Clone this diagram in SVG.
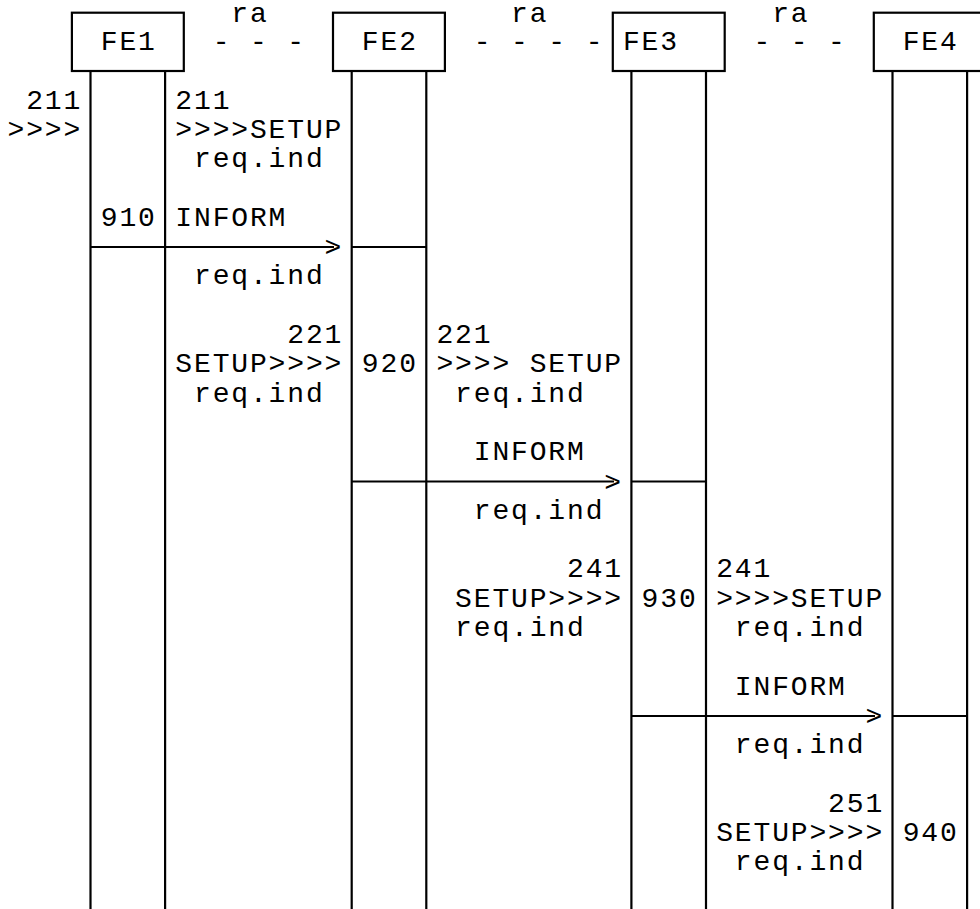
<svg xmlns="http://www.w3.org/2000/svg" width="980" height="909" viewBox="0 0 980 909">
<style>
text{font-family:"Liberation Mono","Courier New",monospace;font-size:28px;letter-spacing:1.85px;fill:#000}
.box{fill:#fff;stroke:#000;stroke-width:2.2}
.life{stroke:#000;stroke-width:2.2;fill:none}
.msg{stroke:#000;stroke-width:2.2;fill:none}
</style>
<rect width="980" height="909" fill="#fff"/>
<g id="FE1">
<line class="life" x1="90.5" y1="71" x2="90.5" y2="909"/>
<line class="life" x1="165.1" y1="71" x2="165.1" y2="909"/>
<rect class="box" x="71.9" y="12.7" width="111.9" height="58.3"/>
<text x="100.75" y="50">FE1</text>
</g>
<g id="FE2">
<line class="life" x1="351.7" y1="71" x2="351.7" y2="909"/>
<line class="life" x1="426.3" y1="71" x2="426.3" y2="909"/>
<rect class="box" x="333" y="12.7" width="111.9" height="58.3"/>
<text x="361.85" y="50">FE2</text>
</g>
<g id="FE3">
<line class="life" x1="631.4" y1="71" x2="631.4" y2="909"/>
<line class="life" x1="706" y1="71" x2="706" y2="909"/>
<rect class="box" x="612.8" y="12.7" width="111.9" height="58.3"/>
<text x="622.95" y="50">FE3</text>
</g>
<g id="FE4">
<line class="life" x1="892.5" y1="71" x2="892.5" y2="909"/>
<line class="life" x1="967.1" y1="71" x2="967.1" y2="909"/>
<rect class="box" x="873.8" y="12.7" width="111.9" height="58.3"/>
<text x="902.7" y="50">FE4</text>
</g>
<g id="connectors">
<text x="231.3" y="21.5">ra</text>
<text x="212.65" y="50">- - -</text>
<text x="511.05" y="21.5">ra</text>
<text x="473.75" y="50">- - - -</text>
<text x="772.15" y="21.5">ra</text>
<text x="753.5" y="50">- - -</text>
<line class="msg" x1="90.5" y1="247" x2="334" y2="247"/>
<text x="324.55" y="256.3">&gt;</text>
<line class="msg" x1="351.7" y1="247" x2="426.3" y2="247"/>
<line class="msg" x1="351.7" y1="481.5" x2="614" y2="481.5"/>
<text x="604.3" y="490.8">&gt;</text>
<line class="msg" x1="631.4" y1="481.5" x2="706" y2="481.5"/>
<line class="msg" x1="631.4" y1="716" x2="875" y2="716"/>
<text x="865.4" y="725.3">&gt;</text>
<line class="msg" x1="892.5" y1="716" x2="967.1" y2="716"/>
</g>
<g id="labels">
<text x="26.15" y="108.6">211</text>
<text x="7.5" y="137.9">&gt;&gt;&gt;&gt;</text>
<text x="175.35" y="108.6">211</text>
<text x="175.35" y="137.9">&gt;&gt;&gt;&gt;SETUP</text>
<text x="194" y="167.2">req.ind</text>
<text x="100.75" y="225.8">910</text>
<text x="175.35" y="225.8">INFORM</text>
<text x="194" y="284.4">req.ind</text>
<text x="287.25" y="343">221</text>
<text x="175.35" y="372.3">SETUP&gt;&gt;&gt;&gt;</text>
<text x="194" y="401.6">req.ind</text>
<text x="361.85" y="372.3">920</text>
<text x="436.45" y="343">221</text>
<text x="436.45" y="372.3">&gt;&gt;&gt;&gt; SETUP</text>
<text x="455.1" y="401.6">req.ind</text>
<text x="473.75" y="460.2">INFORM</text>
<text x="473.75" y="518.8">req.ind</text>
<text x="567" y="577.4">241</text>
<text x="455.1" y="606.7">SETUP&gt;&gt;&gt;&gt;</text>
<text x="455.1" y="636">req.ind</text>
<text x="641.6" y="606.7">930</text>
<text x="716.2" y="577.4">241</text>
<text x="716.2" y="606.7">&gt;&gt;&gt;&gt;SETUP</text>
<text x="734.85" y="636">req.ind</text>
<text x="734.85" y="694.6">INFORM</text>
<text x="734.85" y="753.2">req.ind</text>
<text x="828.1" y="811.8">251</text>
<text x="716.2" y="841.1">SETUP&gt;&gt;&gt;&gt;</text>
<text x="734.85" y="870.4">req.ind</text>
<text x="902.7" y="841.1">940</text>
</g>
</svg>
